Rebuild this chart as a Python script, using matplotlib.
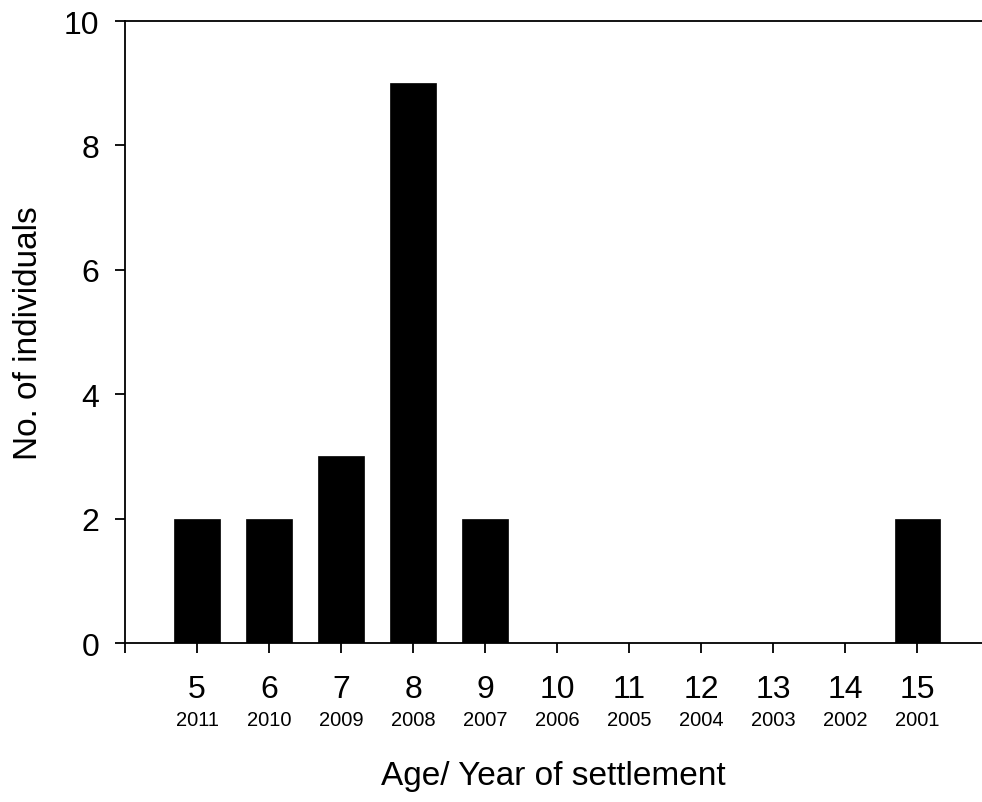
import matplotlib
matplotlib.use("Agg")
import matplotlib.pyplot as plt

ages = [5, 6, 7, 8, 9, 10, 11, 12, 13, 14, 15]
years = ["2011", "2010", "2009", "2008", "2007", "2006", "2005", "2004", "2003", "2002", "2001"]
counts = [2, 2, 3, 9, 2, 0, 0, 0, 0, 0, 2]

plt.rcParams["font.family"] = ["Liberation Sans", "DejaVu Sans"]

fig = plt.figure(figsize=(9.82, 8.03), dpi=100)
ax = fig.add_axes([0.1273, 0.198, 0.8727, 0.7746])

ax.bar(ages, counts, width=0.63, color="black", edgecolor="black", linewidth=0.5)

ax.set_xlim(4, 15.9)
ax.set_ylim(0, 10)
ax.spines["right"].set_visible(False)
for s in ["left", "bottom", "top"]:
    ax.spines[s].set_linewidth(1.3)

ax.set_xticks([4] + ages)
ax.set_xticklabels([""] + [str(a) for a in ages])
ax.set_yticks([0, 2, 4, 6, 8, 10])
ax.tick_params(axis="both", direction="out", length=7.5, width=1.3, labelsize=23)
ax.tick_params(axis="x", pad=15)
ax.tick_params(axis="y", pad=11)

for a, y in zip(ages, years):
    ax.text(a, -0.123, y, transform=ax.get_xaxis_transform(), ha="center", va="center", fontsize=14.5)

ax.set_xlabel("Age/ Year of settlement", fontsize=24, labelpad=40)
ax.set_ylabel("No. of individuals", fontsize=24, labelpad=14)

fig.savefig("out.png", dpi=100)
